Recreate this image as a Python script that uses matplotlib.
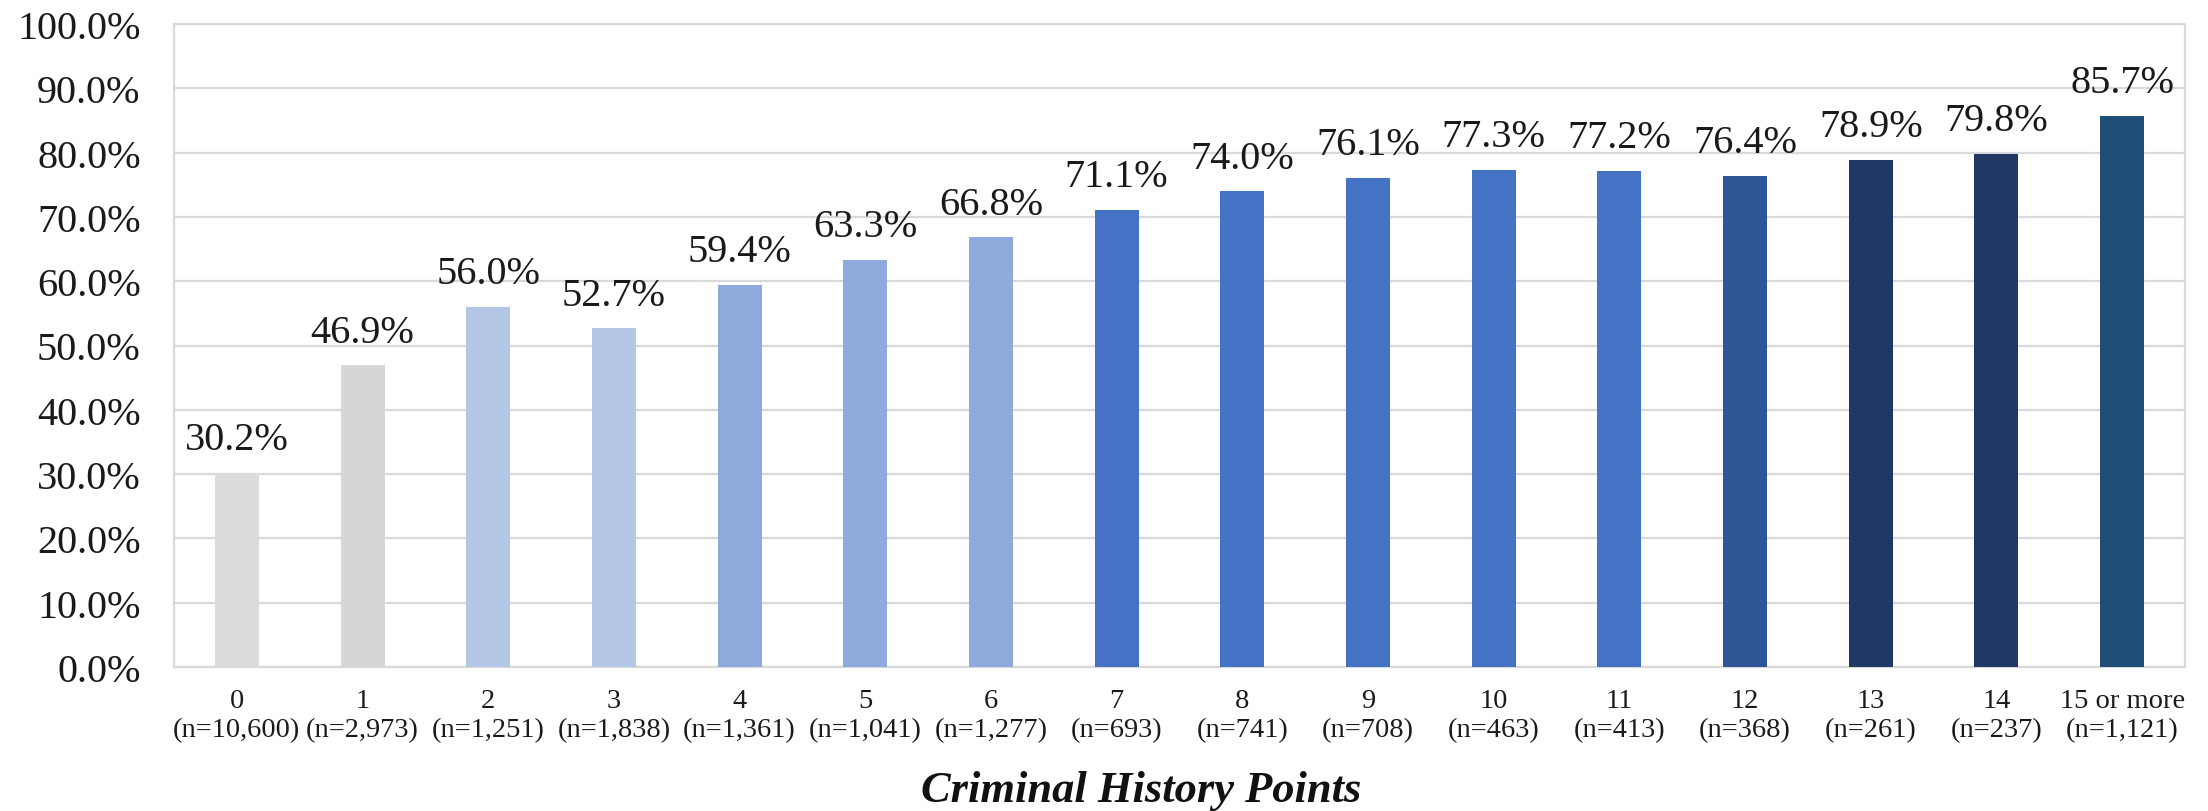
import matplotlib
matplotlib.use("Agg")
import matplotlib.pyplot as plt
from matplotlib.ticker import MultipleLocator, FuncFormatter

points = ["0", "1", "2", "3", "4", "5", "6", "7", "8", "9", "10", "11", "12", "13", "14", "15 or more"]
counts = ["10,600", "2,973", "1,251", "1,838", "1,361", "1,041", "1,277", "693", "741", "708",
          "463", "413", "368", "261", "237", "1,121"]
rates = [30.2, 46.9, 56.0, 52.7, 59.4, 63.3, 66.8, 71.1, 74.0, 76.1, 77.3, 77.2, 76.4, 78.9, 79.8, 85.7]
colors = ["#DBDCDD", "#D5D7D6", "#B4C7E7", "#B4C7E7", "#8FAADC", "#8FAADC", "#8FAADC",
          "#4472C4", "#4472C4", "#4472C4", "#4472C4", "#4472C4", "#2F5597", "#203864", "#203864", "#1F4E79"]

plt.rcParams['font.family'] = ['Liberation Serif', 'DejaVu Serif']

fig = plt.figure(figsize=(22.08, 8.12), dpi=100)
W, H = 2208, 812
left, right, top, bottom = 174, 2185, 25, 668
ax = fig.add_axes([left / W, 1 - bottom / H, (right - left) / W, (bottom - top) / H])

x = list(range(len(points)))
ax.bar(x, rates, width=0.35, color=colors, zorder=3)
ax.set_xlim(-0.5, len(points) - 0.5)
ax.set_ylim(0, 100)
ax.yaxis.set_major_locator(MultipleLocator(10))
ax.yaxis.set_major_formatter(FuncFormatter(lambda v, p: f"{v:.1f}%"))
ax.grid(axis='y', color='#D9D9D9', linewidth=1.6, zorder=0)
for s in ax.spines.values():
    s.set_color('#D9D9D9')
    s.set_linewidth(1.6)
ax.tick_params(axis='y', length=0, pad=24, labelsize=29, labelcolor='#1a1a1a')
ax.tick_params(axis='x', length=0, pad=15, labelsize=20.5, labelcolor='#1a1a1a')
ax.set_xticks(x)
ax.set_xticklabels([f"{p}\n(n={c})" for p, c in zip(points, counts)], linespacing=1.25)

for xi, r in zip(x, rates):
    ax.annotate(f"{r:.1f}%", (xi, r), xytext=(0, 17), textcoords='offset points',
                ha='center', va='baseline', fontsize=29, color='#1a1a1a')

ax.set_xlabel("Criminal History Points", fontsize=32, fontweight='bold', fontstyle='italic',
              color='#111111')
ax.xaxis.set_label_coords(0.481, -0.191)
ax.xaxis.label.set_va('center')

fig.savefig("out.png", dpi=100, facecolor='white')
